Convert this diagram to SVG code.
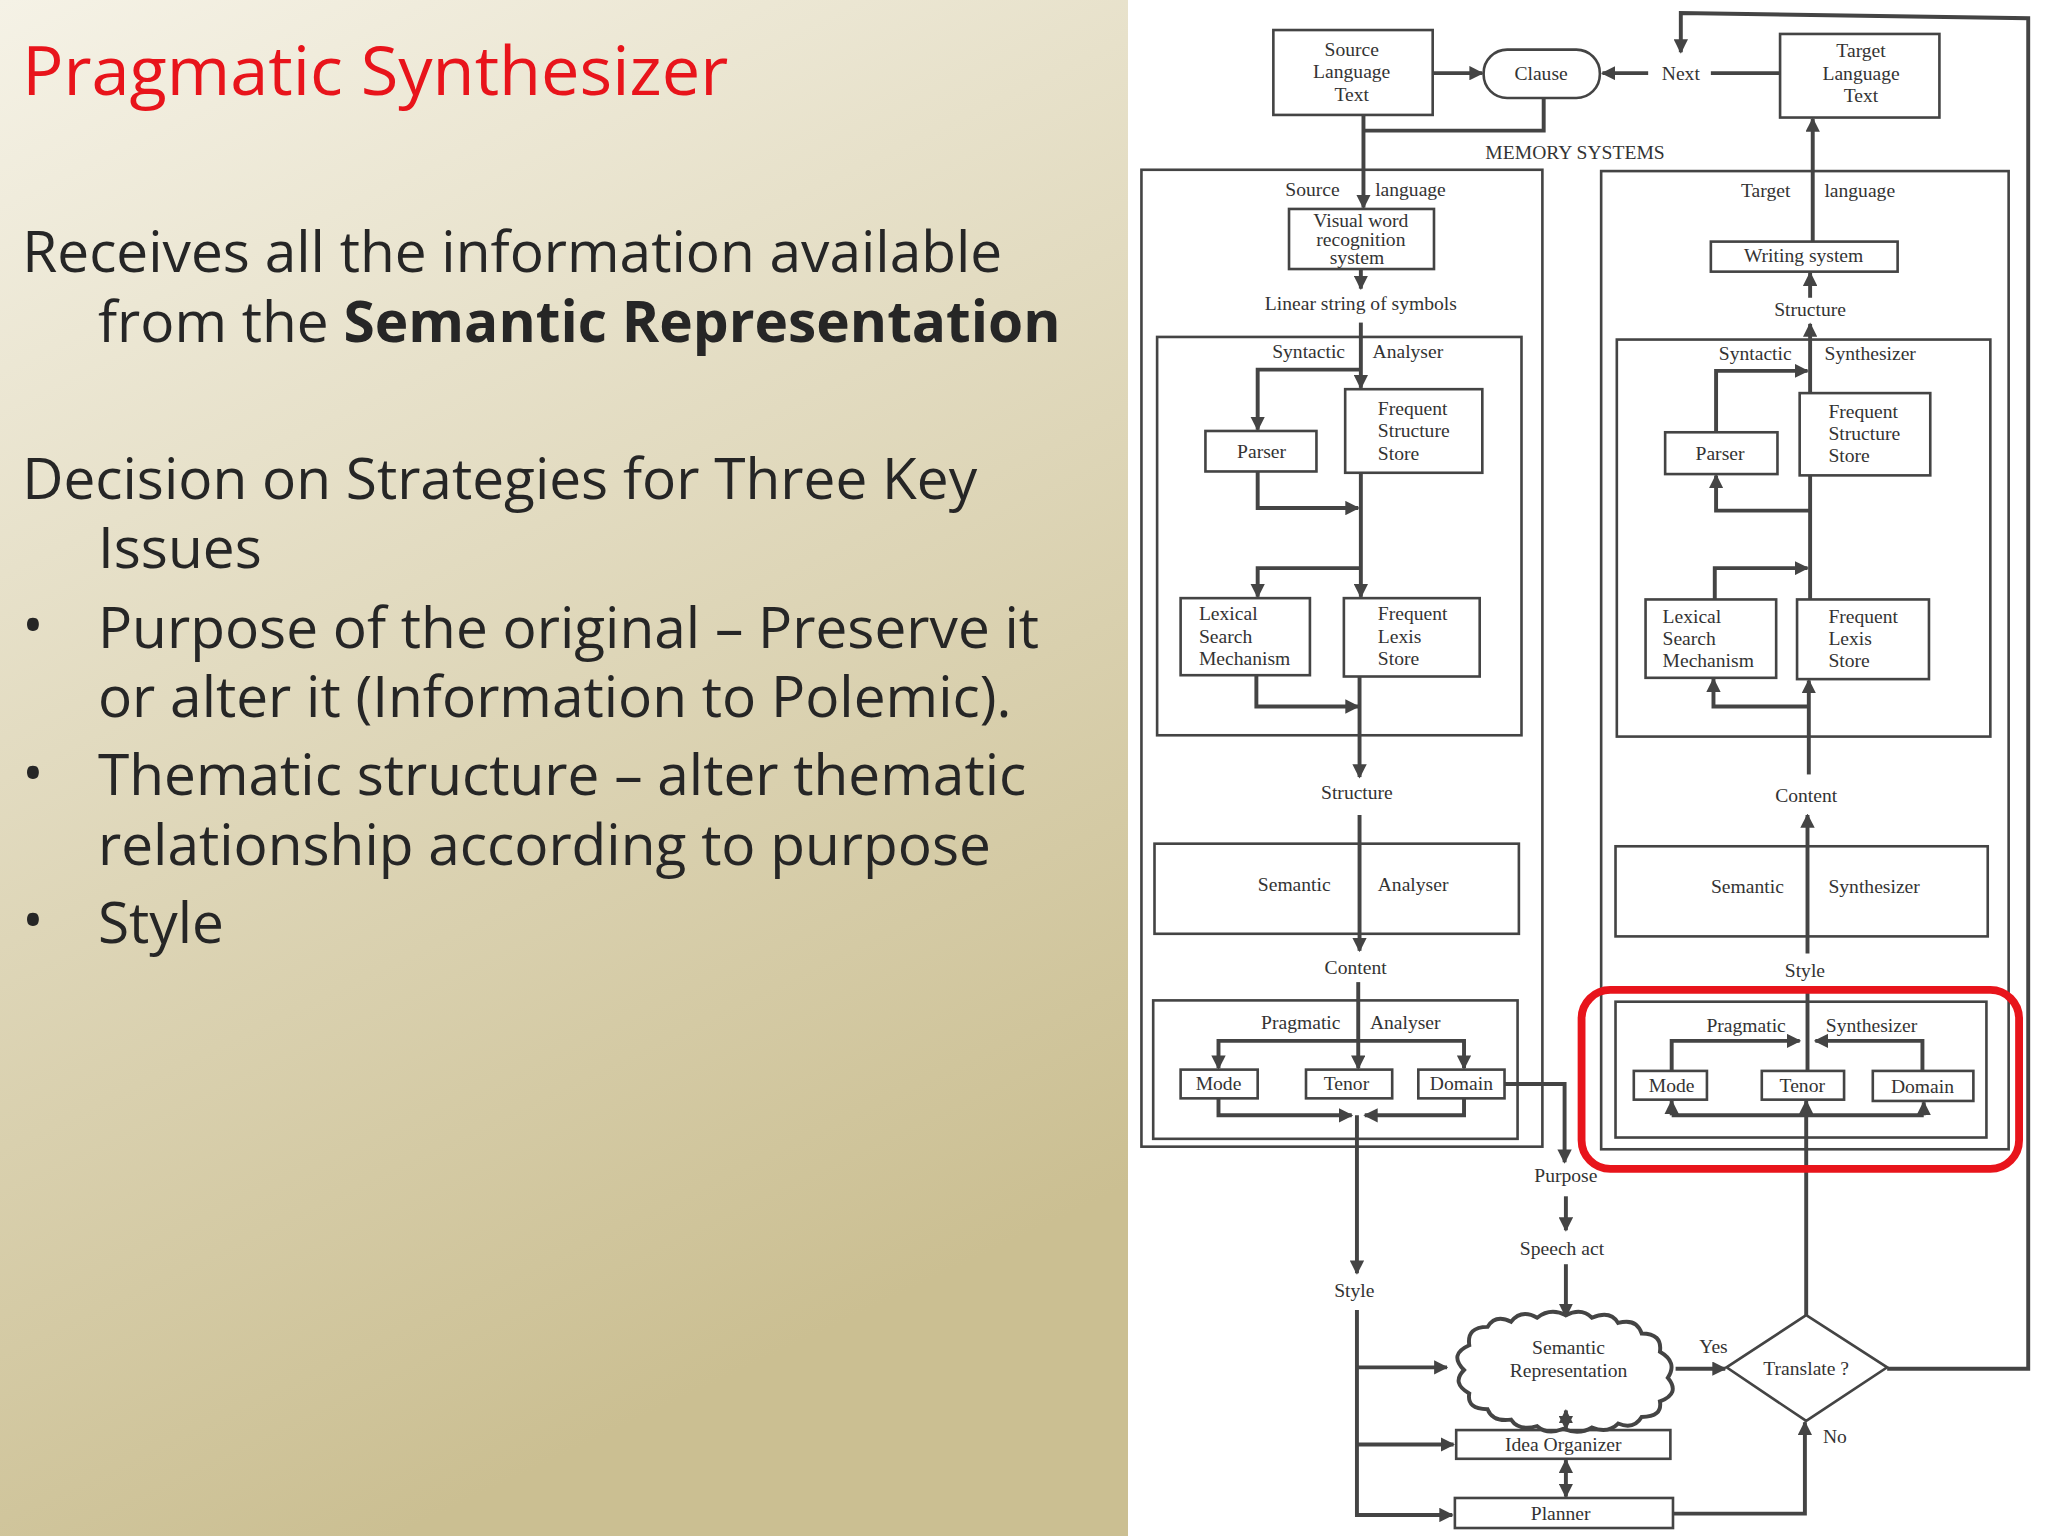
<svg xmlns="http://www.w3.org/2000/svg" width="2048" height="1536" viewBox="0 0 2048 1536">
<defs>
<linearGradient id="bg" x1="0" y1="0" x2="0.35" y2="1">
<stop offset="0" stop-color="#f5f2e6"/><stop offset="1" stop-color="#cbbf92"/>
</linearGradient>
<marker id="a" viewBox="0 0 10 10" refX="9" refY="5" markerWidth="11" markerHeight="11" markerUnits="userSpaceOnUse" orient="auto"><path d="M0,0 L10,5 L0,10 z" fill="#444"/></marker>
<marker id="s" viewBox="0 0 10 10" refX="1" refY="5" markerWidth="11" markerHeight="11" markerUnits="userSpaceOnUse" orient="auto"><path d="M10,0 L0,5 L10,10 z" fill="#444"/></marker>
</defs>
<style>
.t{font-family:"Open Sans","Noto Sans",sans-serif;font-size:43.5px;fill:#262626}
.d{font-family:"Liberation Serif","DejaVu Serif",serif;font-size:15px;fill:#333;text-anchor:middle}
.l{text-anchor:start}
.b{fill:none;stroke:#444;stroke-width:2}
.c{fill:none;stroke:#444;stroke-width:3}
.c path,.c line,.c polyline{marker-end:url(#a)}
</style>
<rect width="2048" height="1536" fill="#fff"/>
<rect width="1128" height="1536" fill="url(#bg)"/>
<g transform="scale(1.306)">
<g id="slide-text">
<text x="17" y="73" style="font-family:'Open Sans','Noto Sans',sans-serif;font-size:52.5px;fill:#e8141b">Pragmatic Synthesizer</text>
<text class="t" x="17" y="208">Receives all the information available</text>
<text class="t" x="75" y="262">from the <tspan font-weight="bold">Semantic Representation</tspan></text>
<text class="t" x="17" y="382">Decision on Strategies for Three Key</text>
<text class="t" x="75" y="435">Issues</text>
<text class="t" x="17" y="494">•</text><text class="t" x="75" y="496">Purpose of the original – Preserve it</text>
<text class="t" x="75" y="549">or alter it (Information to Polemic).</text>
<text class="t" x="17" y="607">•</text><text class="t" x="75" y="609">Thematic structure – alter thematic</text>
<text class="t" x="75" y="662">relationship according to purpose</text>
<text class="t" x="17" y="720">•</text><text class="t" x="75" y="722">Style</text>
</g>
<g id="containers">
<rect class="b" x="874" y="130" width="307" height="748"/>
<rect class="b" x="1226" y="131" width="312" height="749"/>
<rect class="b" x="886" y="258" width="279" height="305"/>
<rect class="b" x="1238" y="260" width="286" height="304"/>
<rect class="b" x="884" y="646" width="279" height="69"/>
<rect class="b" x="1237" y="648" width="285" height="69"/>
<rect class="b" x="883" y="766" width="279" height="106"/>
<rect class="b" x="1237" y="767" width="284" height="104"/>
<text class="d" x="1206" y="122">MEMORY SYSTEMS</text>
<text class="d" x="1005" y="150">Source</text><text class="d" x="1080" y="150">language</text>
<text class="d" x="1352" y="151">Target</text><text class="d" x="1424" y="151">language</text>
<text class="d" x="1002" y="274">Syntactic</text><text class="d" x="1078" y="274">Analyser</text>
<text class="d" x="1344" y="276">Syntactic</text><text class="d" x="1432" y="276">Synthesizer</text>
<text class="d" x="991" y="682">Semantic</text><text class="d" x="1082" y="682">Analyser</text>
<text class="d" x="1338" y="684">Semantic</text><text class="d" x="1435" y="684">Synthesizer</text>
<text class="d" x="996" y="788">Pragmatic</text><text class="d" x="1076" y="788">Analyser</text>
<text class="d" x="1337" y="790">Pragmatic</text><text class="d" x="1433" y="790">Synthesizer</text>
<text class="d" x="1042" y="237">Linear string of symbols</text>
<text class="d" x="1039" y="612">Structure</text>
<text class="d" x="1038" y="746">Content</text>
<text class="d" x="1386" y="242">Structure</text>
<text class="d" x="1383" y="614">Content</text>
<text class="d" x="1382" y="748">Style</text>
<text class="d" x="1199" y="905">Purpose</text>
<text class="d" x="1196" y="961">Speech act</text>
<text class="d" x="1037" y="993">Style</text>
<text class="d" x="1287" y="61">Next</text>
<text class="d" x="1312" y="1036">Yes</text>
<text class="d" x="1405" y="1105">No</text>
</g>
<g id="slt"><rect class="b" x="975" y="23" width="122" height="65"/><text class="d" x="1035" y="43">Source</text><text class="d" x="1035" y="60">Language</text><text class="d" x="1035" y="77">Text</text></g>
<g id="clause"><rect class="b" x="1136" y="38" width="89" height="37" rx="18"/><text class="d" x="1180" y="61">Clause</text></g>
<g id="tlt"><rect class="b" x="1363" y="26" width="122" height="64"/><text class="d" x="1425" y="44">Target</text><text class="d" x="1425" y="61">Language</text><text class="d" x="1425" y="78">Text</text></g>
<g id="vwr"><rect class="b" x="987" y="160" width="111" height="46"/><text class="d" x="1042" y="174" font-size="13.5">Visual word</text><text class="d" x="1042" y="188" font-size="13.5">recognition</text><text class="d" x="1039" y="202" font-size="13.5">system</text></g>
<g id="lparser"><rect class="b" x="923" y="330" width="85" height="31"/><text class="d" x="966" y="351">Parser</text></g>
<g id="lfss"><rect class="b" x="1030" y="298" width="105" height="64"/><text class="d l" x="1055" y="318">Frequent</text><text class="d l" x="1055" y="335">Structure</text><text class="d l" x="1055" y="352">Store</text></g>
<g id="llsm"><rect class="b" x="904" y="458" width="99" height="59"/><text class="d l" x="918" y="475">Lexical</text><text class="d l" x="918" y="492">Search</text><text class="d l" x="918" y="509">Mechanism</text></g>
<g id="lfls"><rect class="b" x="1029" y="458" width="104" height="60"/><text class="d l" x="1055" y="475">Frequent</text><text class="d l" x="1055" y="492">Lexis</text><text class="d l" x="1055" y="509">Store</text></g>
<g id="lmode"><rect class="b" x="904" y="819" width="59" height="22"/><text class="d" x="933" y="835">Mode</text></g>
<g id="ltenor"><rect class="b" x="1000" y="819" width="66" height="22"/><text class="d" x="1031" y="835">Tenor</text></g>
<g id="ldomain"><rect class="b" x="1086" y="819" width="66" height="22"/><text class="d" x="1119" y="835">Domain</text></g>
<g id="ws"><rect class="b" x="1310" y="185" width="143" height="23"/><text class="d" x="1381" y="201">Writing system</text></g>
<g id="rparser"><rect class="b" x="1275" y="331" width="86" height="32"/><text class="d" x="1317" y="352">Parser</text></g>
<g id="rfss"><rect class="b" x="1378" y="301" width="100" height="63"/><text class="d l" x="1400" y="320">Frequent</text><text class="d l" x="1400" y="337">Structure</text><text class="d l" x="1400" y="354">Store</text></g>
<g id="rlsm"><rect class="b" x="1260" y="459" width="100" height="60"/><text class="d l" x="1273" y="477">Lexical</text><text class="d l" x="1273" y="494">Search</text><text class="d l" x="1273" y="511">Mechanism</text></g>
<g id="rfls"><rect class="b" x="1376" y="459" width="101" height="61"/><text class="d l" x="1400" y="477">Frequent</text><text class="d l" x="1400" y="494">Lexis</text><text class="d l" x="1400" y="511">Store</text></g>
<g id="rmode"><rect class="b" x="1251" y="820" width="56" height="22"/><text class="d" x="1280" y="836">Mode</text></g>
<g id="rtenor"><rect class="b" x="1349" y="820" width="63" height="22"/><text class="d" x="1380" y="836">Tenor</text></g>
<g id="rdomain"><rect class="b" x="1434" y="820" width="77" height="23"/><text class="d" x="1472" y="837">Domain</text></g>
<g id="semrep"><path d="M1125,1030 q-2,-14 14,-14 q6,-10 18,-4 q8,-10 20,-3 q10,-8 22,-2 q12,-6 20,2 q14,-6 20,4 q14,-4 18,8 q16,0 14,14 q14,8 6,20 q10,12 -6,18 q2,12 -14,12 q-6,10 -18,5 q-8,8 -20,3 q-10,6 -22,1 q-12,5 -20,-2 q-14,4 -20,-5 q-14,2 -18,-8 q-16,0 -14,-12 q-14,-8 -4,-18 q-12,-12 4,-19 z" fill="#fff" stroke="#444" stroke-width="3"/><text class="d" x="1201" y="1037">Semantic</text><text class="d" x="1201" y="1054">Representation</text></g>
<g id="translate"><polygon points="1383,1007 1445,1047 1383,1088 1322,1047" fill="#fff" stroke="#444" stroke-width="2"/><text class="d" x="1383" y="1053">Translate ?</text></g>
<g id="idea"><rect class="b" x="1115" y="1095" width="164" height="22"/><text class="d" x="1197" y="1111">Idea  Organizer</text></g>
<g id="planner"><rect class="b" x="1114" y="1147" width="167" height="23"/><text class="d" x="1195" y="1164">Planner</text></g>
<g id="connectors" class="c">
<line x1="1097" y1="56" x2="1135" y2="56"/>
<line x1="1262" y1="56" x2="1227" y2="56"/>
<polyline points="1310,56 1363,56" style="marker-end:none"/>
<polyline points="1445,1048 1553,1048 1553,14 1287,10 1287,40"/>
<polyline points="1182,75 1182,100 1044,100" style="marker-end:none"/>
<line x1="1044" y1="88" x2="1044" y2="159"/>
<line x1="1042" y1="206" x2="1042" y2="221"/>
<line x1="1042" y1="247" x2="1042" y2="297"/>
<polyline points="1042,283 963,283 963,329"/>
<polyline points="963,361 963,389 1040,389"/>
<line x1="1042" y1="362" x2="1042" y2="457"/>
<polyline points="1042,435 963,435 963,457"/>
<polyline points="962,517 962,541 1040,541"/>
<line x1="1041" y1="518" x2="1041" y2="595"/>
<line x1="1041" y1="624" x2="1041" y2="728"/>
<line x1="1040" y1="752" x2="1040" y2="818"/>
<polyline points="1040,797 933,797 933,818"/>
<polyline points="1040,797 1121,797 1121,818"/>
<polyline points="933,841 933,854 1035,854"/>
<polyline points="1121,841 1121,854 1045,854"/>
<polyline points="1152,830 1198,830 1198,890"/>
<line x1="1199" y1="916" x2="1199" y2="942"/>
<line x1="1199" y1="968" x2="1199" y2="1008"/>
<line x1="1039" y1="854" x2="1039" y2="975"/>
<polyline points="1039,1003 1039,1160 1112,1160"/>
<line x1="1039" y1="1047" x2="1108" y2="1047"/>
<line x1="1039" y1="1106" x2="1113" y2="1106"/>
<line x1="1283" y1="1048" x2="1321" y2="1048"/>
<line x1="1199" y1="1080" x2="1199" y2="1094" style="marker-start:url(#s)"/>
<line x1="1199" y1="1118" x2="1199" y2="1146" style="marker-start:url(#s)"/>
<polyline points="1281,1159 1382,1159 1382,1089"/>
<line x1="1383" y1="1007" x2="1383" y2="843"/>
<line x1="1388" y1="185" x2="1388" y2="91"/>
<line x1="1386" y1="228" x2="1386" y2="209"/>
<line x1="1386" y1="301" x2="1386" y2="248"/>
<polyline points="1314,331 1314,284 1384,284"/>
<line x1="1386" y1="364" x2="1386" y2="459" style="marker-end:none"/>
<polyline points="1386,391 1314,391 1314,364"/>
<polyline points="1313,459 1313,435 1384,435"/>
<line x1="1385" y1="593" x2="1385" y2="521"/>
<polyline points="1385,541 1312,541 1312,520"/>
<line x1="1384" y1="730" x2="1384" y2="624"/>
<line x1="1384" y1="757" x2="1384" y2="820" style="marker-end:none"/>
<polyline points="1280,820 1280,797 1378,797"/>
<polyline points="1472,820 1472,797 1390,797"/>
<polyline points="1280,854 1473,854" style="marker-end:none"/>
<line x1="1280" y1="854" x2="1280" y2="843"/>
<line x1="1473" y1="854" x2="1473" y2="844"/>
</g>
<rect x="1211" y="758" width="335" height="137" rx="22" fill="none" stroke="#e8141b" stroke-width="6"/>
</g>
</svg>
